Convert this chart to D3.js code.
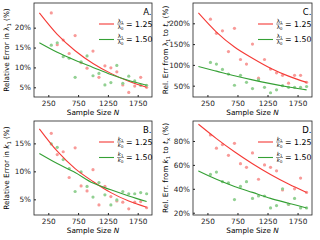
<!DOCTYPE html>
<html>
<head>
<meta charset="utf-8">
<script src="https://cdn.jsdelivr.net/npm/d3@7"></script>
<style>
  body { margin: 0; background: #fff; }
  svg { display: block; font-family: "DejaVu Sans", sans-serif; }
</style>
</head>
<body>
<div id="chart"></div>
<script>
// Sample sizes of the scatter points and of the fitted curves
const sampleSizes = [300, 400, 500, 600, 700, 800, 900, 1000, 1100, 1200, 1300, 1400, 1500, 1600, 1700, 1800, 1900];
const fitSizes = [100, 400, 700, 1000, 1300, 1600, 1900];
const xTicks = [250, 750, 1250, 1750];

// A: relative error in lambda_1
const aRedPts = [23.7, 15.7, 16.9, 13.5, 18.0, 11.2, 9.8, 14.1, 7.5, 10.4, 9.9, 8.9, 5.6, 3.7, 5.3, 7.5, 5.0];
const aGreenPts = [15.6, 16.2, 12.7, 12.3, 7.5, 11.4, 12.9, 7.9, 8.5, 5.6, 6.2, 10.5, 6.0, 7.8, 6.6, 5.5, 5.5];
const aRedFit = [23.7, 18.3, 14.2, 11.0, 8.5, 6.5, 5.0];
const aGreenFit = [16.2, 13.8, 11.8, 10.0, 8.2, 6.7, 5.5];
const aTicks = [5, 10, 15, 20];

// B: relative error in k_1
const bRedPts = [16.8, 13.0, 13.5, 8.9, 14.2, 7.4, 6.5, 10.3, 4.0, 7.3, 5.5, 4.7, 4.5, 3.3, 4.5, 4.6, 3.5];
const bGreenPts = [14.9, 14.3, 12.1, 10.5, 6.4, 9.9, 7.3, 5.4, 8.0, 5.8, 4.0, 4.9, 6.4, 6.0, 6.0, 6.2, 6.0];
const bRedFit = [17.6, 13.6, 10.5, 8.2, 6.2, 4.7, 3.6];
const bGreenFit = [13.2, 11.4, 9.8, 7.9, 6.7, 5.6, 4.6];
const bTicks = [5, 10, 15];

// C: rel. err from lambda_1 to t_x
const cRedPts = [210, 176, 182, 132, 188, 113, 102, 150, 68, 113, 90, 81, 75, 56, 75, 75, 58];
const cGreenPts = [106, 102, 89, 78, 51, 75, 58, 43, 64, 46, 33, 40, 50, 46, 46, 46, 48];
const cRedFit = [225, 179, 143, 116, 92, 73, 58];
const cGreenFit = [96, 85, 74, 64, 55, 47, 40];
const cTicks = [50, 100, 150, 200];

// D: rel. err from k_1 to t_x
const dRedPts = [85, 74, 77, 68, 78, 61, 58, 70, 48, 60, 58, 55, 39, 27, 40, 49, 37];
const dGreenPts = [52, 54, 46, 45, 31, 42, 46, 32, 34, 34, 24, 26, 40, 27, 32, 24, 24];
const dRedFit = [94, 82, 71, 61, 52, 44, 37];
const dGreenFit = [55, 48, 42, 37, 32, 28, 24];
const dTicks = [20, 40, 60, 80];

const width = 320, height = 240;
const red = "#f53a36", green = "#35a035";
const redPt = "#f89a98", greenPt = "#92d092";

const svg = d3.select("#chart").append("svg")
  .attr("width", width)
  .attr("height", height);

const panels = [
  {letter: "A.", left: 34, right: 152, top: 3, bottom: 97, yDomain: [2.56, 26.2], ticks: aTicks,
   red: aRedPts, green: aGreenPts, redFit: aRedFit, greenFit: aGreenFit,
   ylabel: ["Relative Error in ", "λ", "1", " (%)"], sym: "λ"},
  {letter: "C.", left: 193, right: 312, top: 3, bottom: 97, yDomain: [22.8, 248.8], ticks: cTicks,
   red: cRedPts, green: cGreenPts, redFit: cRedFit, greenFit: cGreenFit,
   ylabel: ["Rel. Err from ", "λ", "1", " to ", "t", "x", " (%)"], sym: "λ"},
  {letter: "B.", left: 34, right: 152, top: 121, bottom: 215, yDomain: [2.2, 19], ticks: bTicks,
   red: bRedPts, green: bGreenPts, redFit: bRedFit, greenFit: bGreenFit,
   ylabel: ["Relative Error in ", "k", "1", " (%)"], sym: "k"},
  {letter: "D.", left: 193, right: 312, top: 121, bottom: 215, yDomain: [18.1, 96.7], ticks: dTicks,
   red: dRedPts, green: dGreenPts, redFit: dRedFit, greenFit: dGreenFit,
   ylabel: ["Rel. Err. from ", "k", "1", " to ", "t", "x", " (%)"], sym: "k"}
];

panels.forEach(p => {
  const x = d3.scaleLinear().domain([10, 1990]).range([p.left, p.right]);
  const y = d3.scaleLinear().domain(p.yDomain).range([p.bottom, p.top]);
  const g = svg.append("g");

  // axes (ticks point inward)
  g.append("g")
    .attr("transform", `translate(0,${p.bottom})`)
    .call(d3.axisBottom(x).tickValues(xTicks).tickSize(-2).tickPadding(4).tickFormat(d3.format("d")))
    .call(a => a.select(".domain").remove())
    .call(a => a.selectAll("line").attr("stroke", "#222"))
    .call(a => a.selectAll("text").attr("font-size", 7.3).attr("fill", "#222").attr("font-family", "DejaVu Sans"));
  g.append("g")
    .attr("transform", `translate(${p.left},0)`)
    .call(d3.axisLeft(y).tickValues(p.ticks).tickSize(-2).tickPadding(3).tickFormat(d => d + "%"))
    .call(a => a.select(".domain").remove())
    .call(a => a.selectAll("line").attr("stroke", "#222"))
    .call(a => a.selectAll("text").attr("font-size", 7.3).attr("fill", "#222").attr("font-family", "DejaVu Sans"));

  // scatter points
  const pts = [{vals: p.red, color: redPt}, {vals: p.green, color: greenPt}];
  pts.forEach(s => {
    g.selectAll(null)
      .data(sampleSizes.map((n, i) => ({n: n, v: s.vals[i]})))
      .enter().append("circle")
      .attr("cx", d => x(d.n))
      .attr("cy", d => y(d.v))
      .attr("r", 1.6)
      .attr("fill", s.color);
  });

  // fitted curves
  const line = d3.line()
    .x(d => x(d.n))
    .y(d => y(d.v))
    .curve(d3.curveMonotoneX);
  [{vals: p.redFit, color: red}, {vals: p.greenFit, color: green}].forEach(s => {
    g.append("path")
      .datum(fitSizes.map((n, i) => ({n: n, v: s.vals[i]})))
      .attr("fill", "none")
      .attr("stroke", s.color)
      .attr("stroke-width", 1.1)
      .attr("d", line);
  });

  // frame
  g.append("rect")
    .attr("x", p.left).attr("y", p.top)
    .attr("width", p.right - p.left).attr("height", p.bottom - p.top)
    .attr("fill", "none").attr("stroke", "#222").attr("stroke-width", 0.8);

  // panel letter
  g.append("text")
    .attr("x", p.right - 0.5).attr("y", p.top + 12)
    .attr("text-anchor", "end")
    .attr("font-size", 8.5)
    .text(p.letter);

  // legend
  const legend = [{color: red, val: "1.25"}, {color: green, val: "1.50"}];
  legend.forEach((l, i) => {
    const ly = p.top + 21 + i * 15.5;
    const lx = p.left + 65;
    g.append("line")
      .attr("x1", lx).attr("x2", lx + 15)
      .attr("y1", ly).attr("y2", ly)
      .attr("stroke", l.color).attr("stroke-width", 1.1);
    const fx = lx + 21.5;
    const num = g.append("text").attr("x", fx).attr("y", ly - 1.2).attr("text-anchor", "middle").attr("font-size", 5.5);
    num.append("tspan").attr("font-style", p.sym === "k" ? "italic" : null).text(p.sym);
    num.append("tspan").attr("font-size", 3.8).attr("dy", 0.9).text("1");
    const den = g.append("text").attr("x", fx).attr("y", ly + 4.8).attr("text-anchor", "middle").attr("font-size", 5.5);
    den.append("tspan").attr("font-style", p.sym === "k" ? "italic" : null).text(p.sym);
    den.append("tspan").attr("font-size", 3.8).attr("dy", 0.9).text("0");
    g.append("line")
      .attr("x1", fx - 3.5).attr("x2", fx + 3.5)
      .attr("y1", ly).attr("y2", ly)
      .attr("stroke", "#222").attr("stroke-width", 0.45);
    g.append("text")
      .attr("x", fx + 5.5).attr("y", ly + 2.8)
      .attr("font-size", 7.8)
      .text("= " + l.val);
  });

  // x label
  const xl = g.append("text")
    .attr("x", (p.left + p.right) / 2).attr("y", p.bottom + 17.5)
    .attr("text-anchor", "middle")
    .attr("font-size", 7.3);
  xl.append("tspan").text("Sample Size ");
  xl.append("tspan").attr("font-style", "italic").text("N");

  // y label
  const yl = g.append("text")
    .attr("transform", `translate(${p.left - 25},${(p.top + p.bottom) / 2}) rotate(-90)`)
    .attr("text-anchor", "middle")
    .attr("font-size", 7.3);
  const parts = p.ylabel;
  parts.forEach((t, i) => {
    if (t === "1" || t === "x") {
      yl.append("tspan").attr("font-size", 5.2).attr("dy", 1.5).text(t);
    } else {
      const ts = yl.append("tspan").text(t);
      if (i > 0 && (parts[i - 1] === "1" || parts[i - 1] === "x")) ts.attr("dy", -1.5);
      if (t === "k" || t === "t") ts.attr("font-style", "italic");
    }
  });
});
</script>
</body>
</html>
